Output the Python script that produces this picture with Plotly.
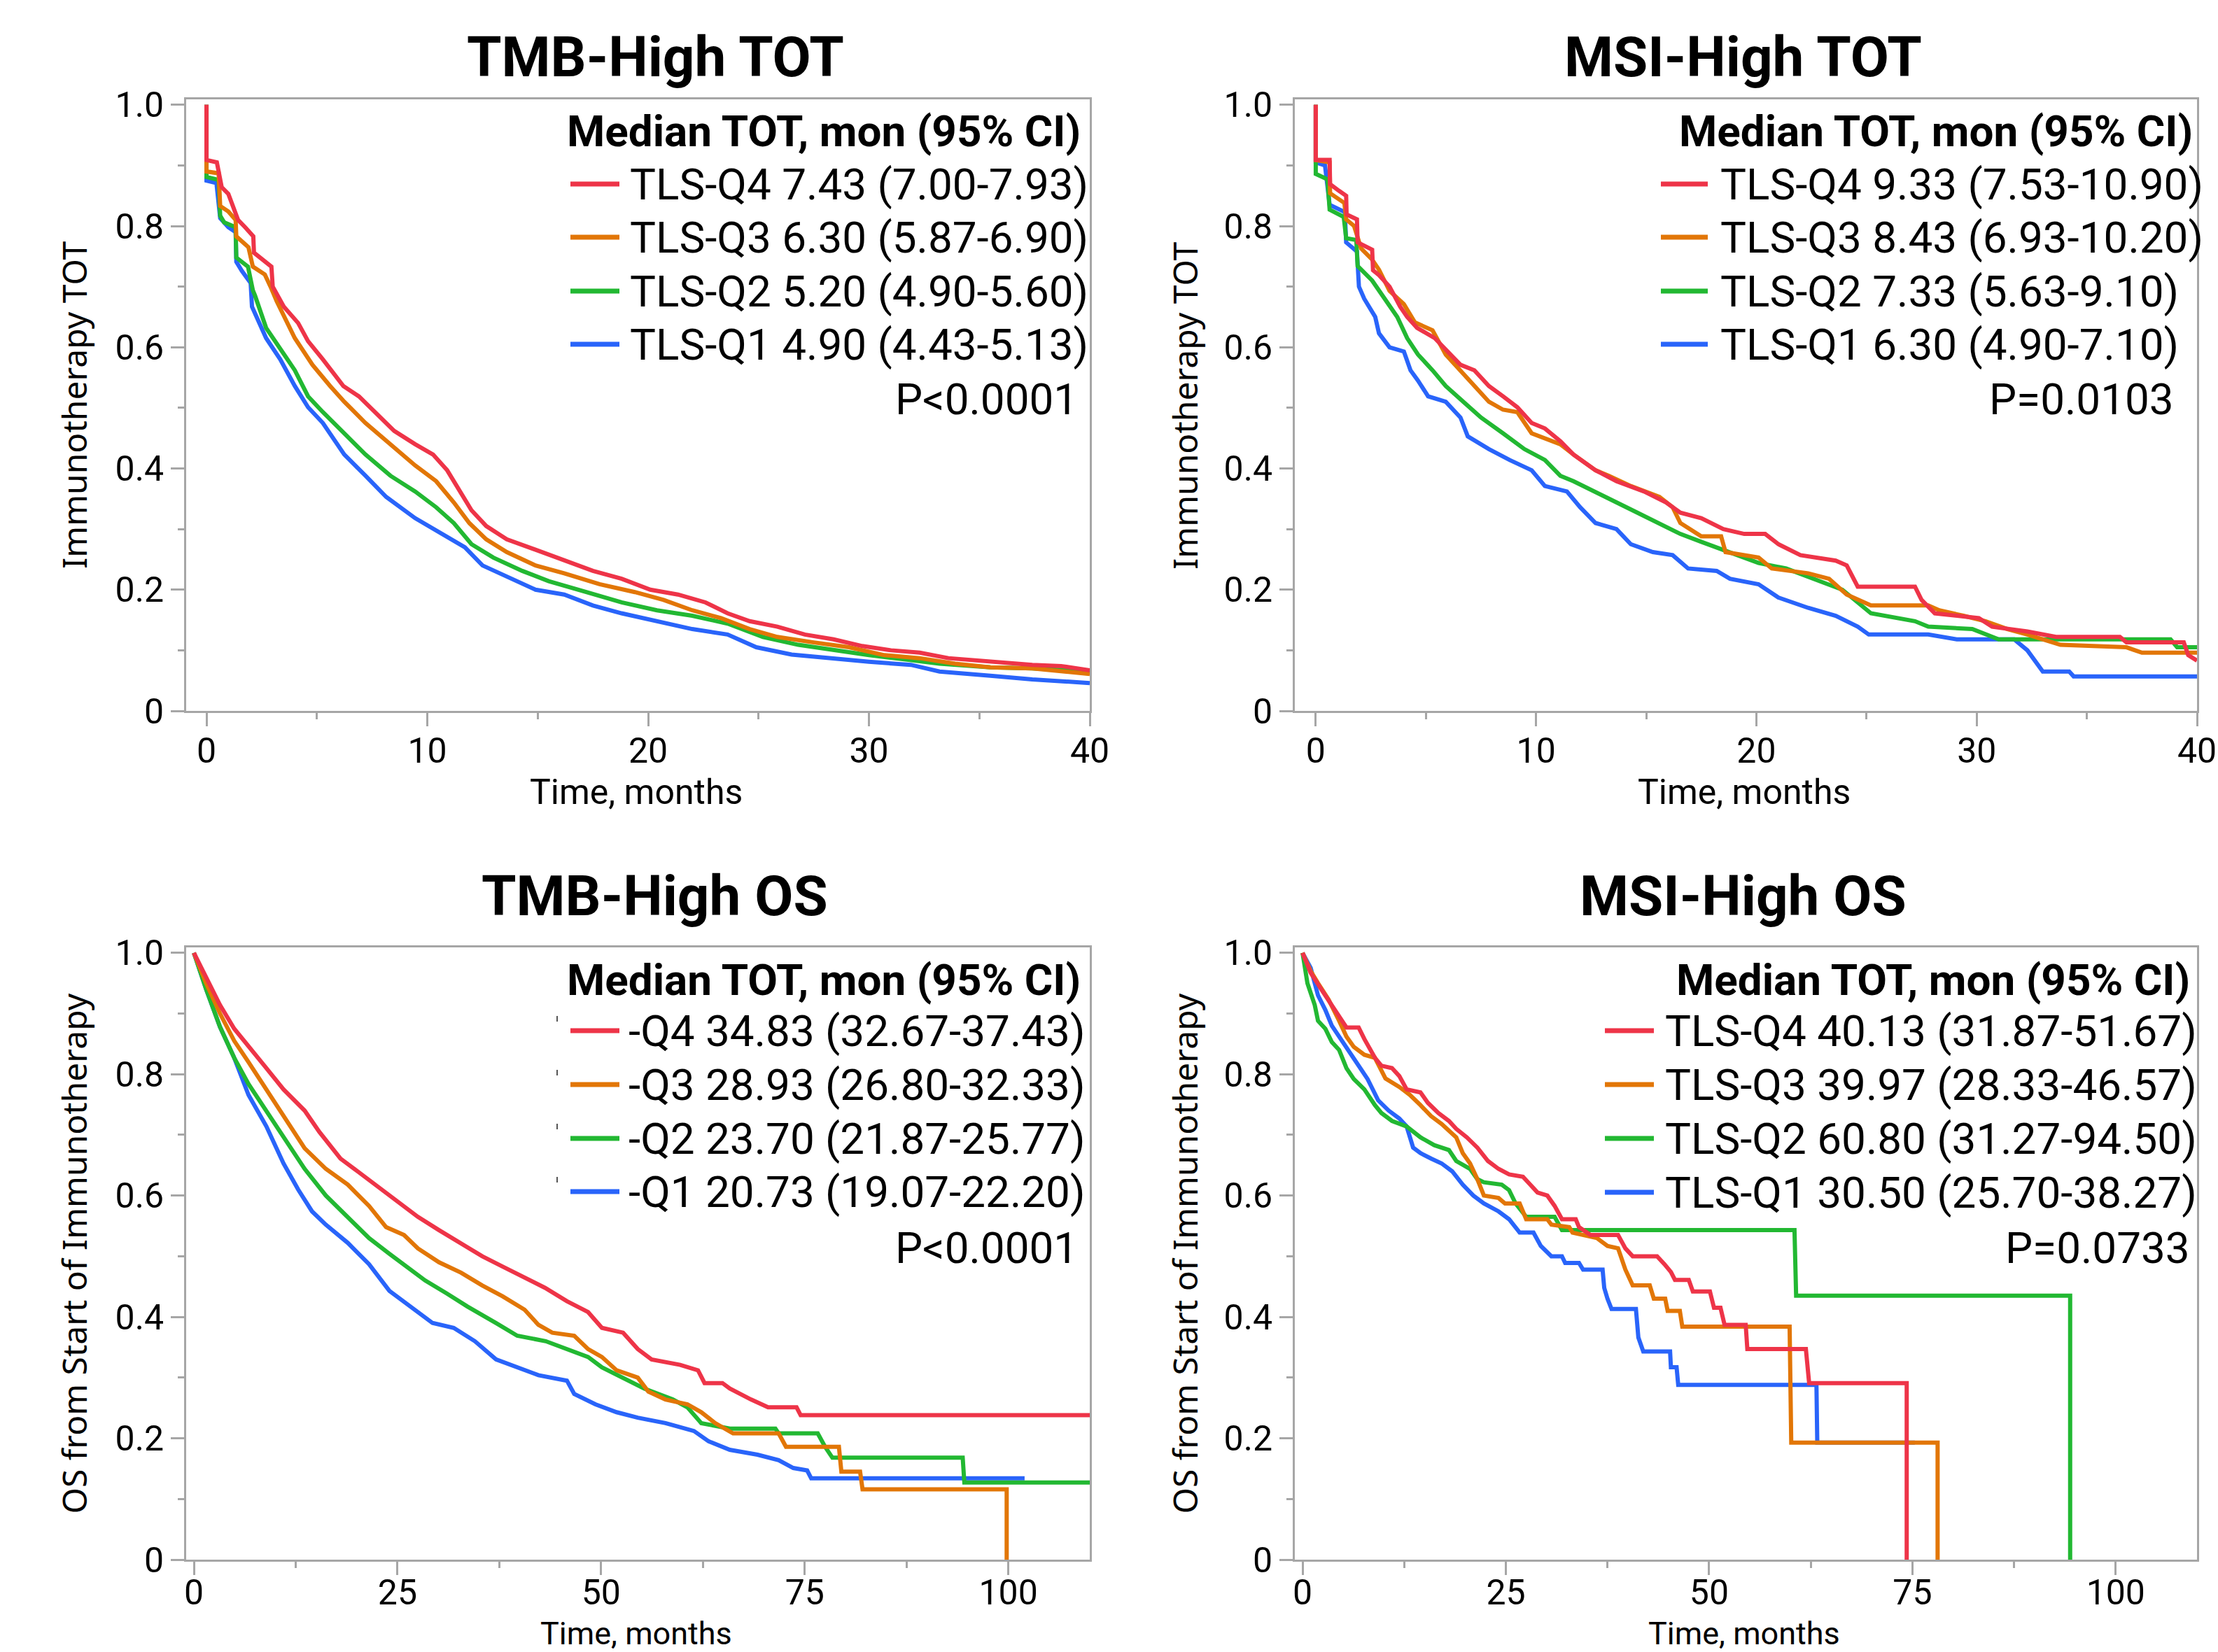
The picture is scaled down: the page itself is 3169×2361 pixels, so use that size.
import plotly.graph_objects as go

# ---------------- data ----------------
# TMB-High TOT
tmb_tot_q4_t = [0, 0, 0.47, 0.69, 0.99, 1.43, 1.75, 2.12, 2.15, 2.94, 3.0, 3.5, 4.15, 4.6, 5.27, 6.2, 6.9, 7.85, 8.5, 9.45, 10.26, 10.9, 11.5, 12.0, 12.67, 13.6, 14.9, 16.2, 17.5, 18.8, 20.1, 21.35, 22.6, 23.6, 24.6, 25.85, 27.1, 28.4, 29.7, 31.0, 32.3, 33.6, 35.5, 37.4, 38.7, 40]
tmb_tot_q4_s = [1.0, 0.909, 0.905, 0.864, 0.853, 0.81, 0.798, 0.783, 0.756, 0.733, 0.70, 0.667, 0.64, 0.61, 0.58, 0.536, 0.519, 0.484, 0.462, 0.44, 0.423, 0.397, 0.362, 0.331, 0.305, 0.283, 0.266, 0.248, 0.231, 0.218, 0.20, 0.192, 0.179, 0.161, 0.148, 0.139, 0.126, 0.118, 0.107, 0.10, 0.096, 0.087, 0.081, 0.076, 0.074, 0.067]
tmb_tot_q3_t = [0, 0, 0.55, 0.62, 0.99, 1.32, 1.35, 1.9, 2.1, 2.64, 2.9, 3.18, 4.0, 4.8, 5.6, 6.24, 7.2, 8.33, 9.45, 10.4, 11.2, 11.9, 12.67, 13.6, 14.9, 16.2, 17.8, 19.4, 20.7, 22, 23.3, 24.6, 25.85, 27.5, 29.1, 30.7, 32.3, 33.9, 35.5, 37.4, 40]
tmb_tot_q3_s = [1.0, 0.89, 0.887, 0.833, 0.824, 0.81, 0.783, 0.765, 0.733, 0.72, 0.70, 0.676, 0.615, 0.571, 0.536, 0.51, 0.475, 0.44, 0.405, 0.379, 0.344, 0.31, 0.283, 0.262, 0.24, 0.227, 0.209, 0.196, 0.183, 0.166, 0.153, 0.135, 0.122, 0.113, 0.105, 0.092, 0.087, 0.078, 0.072, 0.07, 0.061]
tmb_tot_q2_t = [0, 0, 0.55, 0.62, 0.8, 1.32, 1.35, 1.88, 2.1, 2.2, 2.7, 3.34, 4.0, 4.6, 5.27, 6.24, 7.2, 8.33, 9.45, 10.4, 11.2, 12, 12.99, 14.3, 15.5, 17.2, 18.8, 20.4, 22, 23.6, 25.2, 26.8, 28.4, 30.0, 31.6, 33.2, 35.5, 37.4, 40]
tmb_tot_q2_s = [1.0, 0.881, 0.876, 0.817, 0.806, 0.798, 0.748, 0.733, 0.694, 0.685, 0.632, 0.597, 0.562, 0.519, 0.493, 0.458, 0.423, 0.388, 0.362, 0.336, 0.31, 0.275, 0.253, 0.231, 0.214, 0.196, 0.179, 0.166, 0.157, 0.144, 0.122, 0.109, 0.10, 0.092, 0.085, 0.078, 0.072, 0.07, 0.065]
tmb_tot_q1_t = [0, 0, 0.45, 0.62, 0.99, 1.32, 1.35, 1.6, 2.0, 2.06, 2.7, 3.34, 4.0, 4.6, 5.27, 6.24, 7.2, 8.14, 9.45, 10.7, 11.7, 12.5, 13.6, 14.9, 16.2, 17.5, 18.8, 20.4, 22, 23.6, 24.9, 26.5, 28.1, 30, 31.9, 33.2, 35.5, 37.4, 40]
tmb_tot_q1_s = [1.0, 0.875, 0.871, 0.813, 0.798, 0.79, 0.741, 0.726, 0.706, 0.667, 0.615, 0.58, 0.536, 0.501, 0.475, 0.423, 0.388, 0.353, 0.318, 0.292, 0.27, 0.24, 0.222, 0.20, 0.192, 0.174, 0.161, 0.148, 0.135, 0.126, 0.105, 0.093, 0.087, 0.081, 0.076, 0.065, 0.058, 0.052, 0.046]

# MSI-High TOT
msi_tot_q4_t = [0, 0, 0.63, 0.65, 1.06, 1.38, 1.4, 1.87, 1.9, 2.56, 2.6, 2.87, 3.35, 3.83, 4.15, 4.6, 5.4, 5.9, 6.57, 7.2, 7.86, 8.5, 9.15, 9.8, 10.4, 11.1, 11.7, 12.7, 13.65, 14.9, 15.9, 16.55, 17.5, 18.5, 19.45, 20.4, 21.0, 22.0, 23.6, 24.1, 24.6, 27.2, 27.5, 28.1, 30.1, 30.7, 32.3, 33.6, 36.5, 36.8, 39.4, 39.6, 40]
msi_tot_q4_s = [1.0, 0.909, 0.909, 0.869, 0.858, 0.85, 0.819, 0.811, 0.773, 0.761, 0.727, 0.719, 0.70, 0.667, 0.65, 0.632, 0.615, 0.597, 0.571, 0.562, 0.536, 0.519, 0.501, 0.475, 0.466, 0.445, 0.423, 0.397, 0.379, 0.362, 0.344, 0.327, 0.318, 0.30, 0.292, 0.292, 0.275, 0.257, 0.248, 0.24, 0.205, 0.205, 0.183, 0.161, 0.153, 0.139, 0.131, 0.122, 0.122, 0.113, 0.113, 0.092, 0.083]
msi_tot_q3_t = [0, 0, 0.63, 0.65, 1.3, 1.38, 1.74, 2.06, 2.55, 2.87, 3.35, 4.0, 4.5, 5.3, 5.9, 6.57, 7.2, 7.86, 8.5, 9.15, 9.8, 10.4, 11.1, 11.7, 12.7, 13.3, 14.3, 15.6, 16.2, 16.55, 17.5, 18.4, 18.6, 20.1, 20.7, 22.35, 23.3, 24.1, 25.2, 27.8, 28.3, 29.4, 30.4, 31.4, 32.3, 33.8, 36.8, 37.5, 40]
msi_tot_q3_s = [1.0, 0.909, 0.905, 0.854, 0.838, 0.811, 0.80, 0.763, 0.745, 0.728, 0.693, 0.671, 0.641, 0.628, 0.588, 0.562, 0.536, 0.51, 0.497, 0.493, 0.458, 0.449, 0.44, 0.423, 0.397, 0.388, 0.371, 0.353, 0.336, 0.31, 0.288, 0.288, 0.262, 0.253, 0.235, 0.227, 0.218, 0.192, 0.174, 0.174, 0.166, 0.157, 0.148, 0.135, 0.126, 0.109, 0.105, 0.096, 0.096]
msi_tot_q2_t = [0, 0, 0.53, 0.63, 1.27, 1.38, 1.84, 1.9, 2.56, 3.2, 3.7, 4.15, 4.64, 5.3, 5.9, 6.7, 7.5, 8.5, 9.47, 10.4, 11.1, 11.7, 12.7, 13.65, 14.6, 15.6, 16.55, 17.5, 18.8, 20.1, 21.35, 22.6, 23.9, 25.2, 27.2, 27.8, 29.8, 31.0, 38.8, 39.1, 40]
msi_tot_q2_s = [1.0, 0.886, 0.877, 0.827, 0.815, 0.78, 0.777, 0.734, 0.71, 0.676, 0.65, 0.615, 0.588, 0.562, 0.536, 0.51, 0.484, 0.458, 0.432, 0.414, 0.388, 0.379, 0.362, 0.344, 0.327, 0.31, 0.292, 0.279, 0.262, 0.244, 0.235, 0.218, 0.20, 0.161, 0.148, 0.139, 0.135, 0.118, 0.118, 0.105, 0.105]
msi_tot_q1_t = [0, 0, 0.42, 0.63, 1.32, 1.38, 1.87, 1.96, 2.2, 2.7, 2.87, 3.35, 4.0, 4.3, 4.64, 5.1, 5.9, 6.57, 6.9, 7.86, 8.8, 9.8, 10.4, 11.4, 12.0, 12.7, 13.65, 14.3, 15.3, 16.2, 16.9, 18.2, 18.8, 20.1, 21.0, 22.35, 23.6, 24.6, 25.1, 27.8, 29.1, 31.7, 32.3, 33.0, 34.2, 34.4, 40]
msi_tot_q1_s = [1.0, 0.905, 0.90, 0.835, 0.823, 0.773, 0.758, 0.70, 0.68, 0.65, 0.623, 0.60, 0.593, 0.562, 0.545, 0.519, 0.51, 0.484, 0.453, 0.432, 0.414, 0.397, 0.371, 0.362, 0.336, 0.31, 0.30, 0.275, 0.262, 0.257, 0.235, 0.231, 0.218, 0.209, 0.187, 0.17, 0.157, 0.139, 0.126, 0.126, 0.118, 0.118, 0.10, 0.065, 0.065, 0.057, 0.057]

# TMB-High OS
tmb_os_q4_t = [0, 1.5, 3.2, 4.95, 6.7, 8.9, 11.0, 13.6, 15.4, 18.0, 19.7, 22.3, 24.9, 27.5, 30.1, 32.8, 35.4, 37.9, 40.6, 43.1, 45.8, 48.4, 50.1, 52.7, 54.5, 56.2, 59.7, 61.9, 62.7, 64.9, 65.8, 67, 68.4, 70.5, 74, 74.5, 110]
tmb_os_q4_s = [1, 0.958, 0.914, 0.875, 0.845, 0.81, 0.775, 0.74, 0.705, 0.661, 0.644, 0.618, 0.592, 0.565, 0.543, 0.522, 0.50, 0.483, 0.465, 0.448, 0.426, 0.408, 0.382, 0.374, 0.347, 0.33, 0.321, 0.312, 0.291, 0.291, 0.282, 0.273, 0.264, 0.251, 0.251, 0.238, 0.238]
tmb_os_q3_t = [0, 1.5, 3.2, 4.95, 6.7, 8.9, 11, 13.6, 16.2, 18.9, 21.5, 23.6, 25.8, 27.5, 30.1, 32.8, 35.4, 37.9, 40.6, 42.3, 44.0, 46.7, 48.4, 50.1, 51.9, 54.5, 55.8, 57.9, 60.6, 62.3, 64, 66.2, 71.8, 72.7, 79.2, 79.5, 81.8, 82.1, 99.8, 99.8]
tmb_os_q3_s = [1, 0.95, 0.90, 0.855, 0.82, 0.775, 0.73, 0.678, 0.644, 0.618, 0.583, 0.548, 0.535, 0.513, 0.49, 0.473, 0.452, 0.434, 0.412, 0.387, 0.374, 0.369, 0.347, 0.334, 0.312, 0.30, 0.277, 0.264, 0.256, 0.243, 0.225, 0.208, 0.208, 0.186, 0.186, 0.145, 0.145, 0.116, 0.116, 0]
tmb_os_q2_t = [0, 1.5, 3.2, 4.95, 6.7, 8.9, 11, 13.6, 16.2, 18.9, 21.5, 24, 26.7, 28.4, 31, 33.6, 37.1, 39.7, 43.2, 45.8, 48.4, 50.1, 52.7, 55.3, 58.8, 60.6, 62.3, 65.8, 71.4, 71.8, 76.6, 77.5, 78.4, 94.4, 94.6, 110]
tmb_os_q2_s = [1, 0.94, 0.878, 0.827, 0.784, 0.74, 0.696, 0.644, 0.60, 0.565, 0.53, 0.504, 0.478, 0.46, 0.439, 0.417, 0.39, 0.369, 0.36, 0.347, 0.334, 0.317, 0.30, 0.282, 0.264, 0.251, 0.225, 0.216, 0.216, 0.208, 0.208, 0.186, 0.168, 0.168, 0.127, 0.127]
tmb_os_q1_t = [0, 1.5, 3.2, 4.95, 6.7, 8.9, 11, 12.8, 14.5, 16.2, 18.9, 21.5, 24, 26.7, 29.3, 31.9, 34.5, 37.1, 39.7, 42.3, 45.8, 46.7, 49.3, 51.9, 54.5, 57.9, 61.4, 63.2, 65.8, 69.2, 71.8, 73.6, 75.3, 75.8, 102]
tmb_os_q1_s = [1, 0.94, 0.878, 0.827, 0.766, 0.714, 0.653, 0.61, 0.574, 0.552, 0.522, 0.487, 0.443, 0.417, 0.39, 0.382, 0.36, 0.33, 0.317, 0.304, 0.295, 0.273, 0.256, 0.243, 0.234, 0.225, 0.212, 0.195, 0.181, 0.173, 0.164, 0.151, 0.147, 0.134, 0.134]

# MSI-High OS
msi_os_q4_t = [0, 1, 2.3, 3.6, 4.5, 5.4, 6.9, 7.6, 8.9, 9.7, 11, 11.9, 12.8, 14.5, 15.4, 16.7, 18, 18.9, 20.2, 21.5, 22.8, 24.1, 25.4, 27.1, 28, 28.9, 30.1, 31, 31.9, 33.6, 34, 35.4, 38.8, 39.7, 40.6, 43.6, 44.5, 45.3, 45.8, 47.5, 48, 50.1, 50.6, 51.4, 51.9, 54.5, 54.7, 61.9, 62.3, 74.3, 74.3]
msi_os_q4_s = [1, 0.967, 0.94, 0.914, 0.897, 0.877, 0.877, 0.858, 0.827, 0.814, 0.81, 0.797, 0.775, 0.77, 0.753, 0.736, 0.723, 0.71, 0.696, 0.679, 0.657, 0.644, 0.635, 0.631, 0.618, 0.605, 0.60, 0.583, 0.561, 0.561, 0.548, 0.535, 0.535, 0.513, 0.50, 0.50, 0.487, 0.474, 0.461, 0.461, 0.442, 0.442, 0.415, 0.415, 0.387, 0.387, 0.347, 0.347, 0.291, 0.291, 0]
msi_os_q3_t = [0, 1, 1.9, 3.2, 4.5, 5.4, 6.3, 7.6, 8.9, 10.2, 11.9, 13.2, 14.5, 15.8, 17.1, 18.9, 19.7, 20.6, 21.5, 22.3, 24.1, 24.9, 26.7, 27.5, 30.1, 30.6, 32.8, 33.2, 36.2, 37.5, 38.8, 39.7, 40.6, 42.7, 43.2, 44.6, 44.9, 46.4, 46.7, 59.9, 60.1, 78.1, 78.1]
msi_os_q3_s = [1, 0.97, 0.95, 0.923, 0.888, 0.862, 0.845, 0.832, 0.827, 0.793, 0.779, 0.766, 0.749, 0.731, 0.718, 0.696, 0.67, 0.653, 0.627, 0.60, 0.596, 0.587, 0.587, 0.561, 0.561, 0.552, 0.548, 0.539, 0.53, 0.517, 0.513, 0.478, 0.452, 0.452, 0.43, 0.43, 0.41, 0.41, 0.384, 0.384, 0.193, 0.193, 0]
msi_os_q2_t = [0, 0.6, 1.5, 1.9, 2.8, 3.6, 4.5, 5.4, 6.3, 7.6, 8.9, 9.7, 11, 12.8, 14.5, 16.2, 18, 18.9, 20.6, 21.5, 22.3, 24.5, 25.4, 26.2, 27.5, 31, 31.9, 60.5, 60.7, 94.4, 94.4]
msi_os_q2_s = [1, 0.95, 0.914, 0.888, 0.875, 0.853, 0.84, 0.81, 0.792, 0.775, 0.749, 0.736, 0.723, 0.714, 0.696, 0.683, 0.675, 0.657, 0.644, 0.627, 0.622, 0.618, 0.609, 0.587, 0.565, 0.565, 0.543, 0.543, 0.435, 0.435, 0]
msi_os_q1_t = [0, 1, 1.9, 2.8, 3.6, 4.95, 5.8, 6.7, 8, 9.3, 10.6, 11.9, 12.8, 13.6, 14.5, 15.8, 17.1, 18.4, 19.7, 21, 22.3, 24.1, 25.4, 26.7, 28.4, 29.3, 30.6, 31.9, 32.3, 34, 34.5, 36.9, 37.1, 37.5, 38, 41, 41.3, 41.9, 45.2, 45.3, 46, 46.2, 63.2, 63.3, 75.3]
msi_os_q1_s = [1, 0.975, 0.93, 0.906, 0.88, 0.853, 0.836, 0.818, 0.792, 0.757, 0.74, 0.727, 0.714, 0.679, 0.67, 0.661, 0.653, 0.64, 0.618, 0.60, 0.587, 0.574, 0.561, 0.539, 0.539, 0.517, 0.50, 0.50, 0.489, 0.489, 0.478, 0.478, 0.448, 0.43, 0.413, 0.413, 0.366, 0.343, 0.343, 0.317, 0.317, 0.288, 0.288, 0.193, 0.193]

# text
panel_titles = ["TMB-High TOT", "MSI-High TOT", "TMB-High OS", "MSI-High OS"]
y_titles = ["Immunotherapy TOT", "Immunotherapy TOT", "OS from Start of Immunotherapy", "OS from Start of Immunotherapy"]
x_title = "Time, months"
legend_header = "Median TOT, mon (95% CI)"
tmb_tot_labels = ["TLS-Q4 7.43 (7.00-7.93)", "TLS-Q3 6.30 (5.87-6.90)", "TLS-Q2 5.20 (4.90-5.60)", "TLS-Q1 4.90 (4.43-5.13)"]
msi_tot_labels = ["TLS-Q4 9.33 (7.53-10.90)", "TLS-Q3 8.43 (6.93-10.20)", "TLS-Q2 7.33 (5.63-9.10)", "TLS-Q1 6.30 (4.90-7.10)"]
tmb_os_labels = ["-Q4 34.83 (32.67-37.43)", "-Q3 28.93 (26.80-32.33)", "-Q2 23.70 (21.87-25.77)", "-Q1 20.73 (19.07-22.20)"]
msi_os_labels = ["TLS-Q4 40.13 (31.87-51.67)", "TLS-Q3 39.97 (28.33-46.57)", "TLS-Q2 60.80 (31.27-94.50)", "TLS-Q1 30.50 (25.70-38.27)"]
p_values = ["P<0.0001", "P=0.0103", "P<0.0001", "P=0.0733"]
y_tickvals = [0, 0.2, 0.4, 0.6, 0.8, 1.0]
y_ticktext = ["0", "0.2", "0.4", "0.6", "0.8", "1.0"]

# ---------------- style ----------------
W, H = 3169, 2361
COLORS = {"Q4": "#EE3448", "Q3": "#E27606", "Q2": "#22B832", "Q1": "#2964FA"}
GRAY = "#A6A6A6"
FONT = "Roboto"
YFONT = "Noto Sans"
TITLE_SIZE, HDR_SIZE, ENTRY_SIZE = 80, 62, 62


def px(x):
    return x / W


def py(y):
    return 1 - y / H


panels = [
    dict(data=[(tmb_tot_q1_t, tmb_tot_q1_s), (tmb_tot_q2_t, tmb_tot_q2_s), (tmb_tot_q3_t, tmb_tot_q3_s), (tmb_tot_q4_t, tmb_tot_q4_s)],
         labels=tmb_tot_labels, xd=(266, 1557), yd=(142, 1016), xr=[-0.92, 40], dt=10, mdt=5, tx_c=937,
         sw=(815, 885), tx=898, hdr=1546, pr=1542, ys=(188, 263, 339, 416, 492, 570), ty=82, yt=105,
         xty=1132, xts=50, tls=-8, marks=False),
    dict(data=[(msi_tot_q1_t, msi_tot_q1_s), (msi_tot_q2_t, msi_tot_q2_s), (msi_tot_q3_t, msi_tot_q3_s), (msi_tot_q4_t, msi_tot_q4_s)],
         labels=msi_tot_labels, xd=(1850, 3139), yd=(142, 1016), xr=[-0.95, 40], dt=10, mdt=5, tx_c=2490,
         sw=(2373, 2440), tx=2456, hdr=3135, pr=3108, ys=(188, 263, 339, 416, 492, 570), ty=82, yt=1692,
         xty=1132, xts=50, tls=-8, marks=False),
    dict(data=[(tmb_os_q1_t, tmb_os_q1_s), (tmb_os_q2_t, tmb_os_q2_s), (tmb_os_q3_t, tmb_os_q3_s), (tmb_os_q4_t, tmb_os_q4_s)],
         labels=tmb_os_labels, xd=(266, 1557), yd=(1354, 2229), xr=[-0.95, 110], dt=25, mdt=12.5, tx_c=935,
         sw=(815, 885), tx=896, hdr=1546, pr=1542, ys=(1400, 1473, 1550, 1627, 1703, 1783), ty=1281, yt=105,
         xty=2334, xts=45, tls=-18, marks=True),
    dict(data=[(msi_os_q1_t, msi_os_q1_s), (msi_os_q2_t, msi_os_q2_s), (msi_os_q3_t, msi_os_q3_s), (msi_os_q4_t, msi_os_q4_s)],
         labels=msi_os_labels, xd=(1850, 3139), yd=(1354, 2229), xr=[-0.95, 110], dt=25, mdt=12.5, tx_c=2490,
         sw=(2293, 2363), tx=2377, hdr=3131, pr=3131, ys=(1400, 1473, 1550, 1627, 1704, 1783), ty=1281, yt=1692,
         xty=2334, xts=45, tls=-18, marks=False),
]

fig = go.Figure()
annotations = []
shapes = []
layout_axes = {}
groups = ["Q1", "Q2", "Q3", "Q4"]

for i, p in enumerate(panels):
    n = "" if i == 0 else str(i + 1)
    for g, (t, s) in zip(groups, p["data"]):
        fig.add_trace(go.Scatter(x=t, y=s, mode="lines", line=dict(color=COLORS[g], width=6),
                                 xaxis="x" + n, yaxis="y" + n, showlegend=False, hoverinfo="skip"))
    layout_axes["xaxis" + n] = dict(
        domain=[px(p["xd"][0]), px(p["xd"][1])], range=p["xr"], anchor="y" + n, automargin=False,
        tickmode="linear", tick0=0, dtick=p["dt"], ticks="outside", ticklen=19, tickwidth=3, tickcolor=GRAY,
        showline=True, linecolor=GRAY, linewidth=3, mirror=True, showgrid=False, zeroline=False,
        tickfont=dict(family=FONT, size=50, color="black"), ticklabelstandoff=p["tls"],
        minor=dict(ticks="outside", ticklen=9, tickwidth=3, tickcolor=GRAY, tick0=0, dtick=p["mdt"], showgrid=False),
    )
    layout_axes["yaxis" + n] = dict(
        domain=[py(p["yd"][1]), py(p["yd"][0])], range=[0, 1.009], anchor="x" + n, automargin=False,
        tickmode="array", tickvals=y_tickvals, ticktext=y_ticktext, ticks="outside", ticklen=19, tickwidth=3,
        tickcolor=GRAY, showline=True, linecolor=GRAY, linewidth=3, mirror=True, showgrid=False, zeroline=False,
        tickfont=dict(family=FONT, size=50, color="black"),
        minor=dict(ticks="outside", ticklen=9, tickwidth=3, tickcolor=GRAY, tickmode="array",
                   tickvals=[0.1, 0.3, 0.5, 0.7, 0.9], showgrid=False),
    )
    xc = (p["xd"][0] + p["xd"][1]) / 2
    yc = (p["yd"][0] + p["yd"][1]) / 2
    # panel title
    annotations.append(dict(x=px(p["tx_c"]), y=py(p["ty"]), xref="paper", yref="paper",
                            showarrow=False, text="<b>" + panel_titles[i] + "</b>", xanchor="center", yanchor="middle",
                            font=dict(family=FONT, size=TITLE_SIZE, color="black")))
    # axis titles
    annotations.append(dict(x=px(p["yt"]), y=py(yc), xref="paper", yref="paper", showarrow=False,
                            text=y_titles[i], textangle=-90, xanchor="center", yanchor="middle",
                            font=dict(family=YFONT, size=48, color="black")))
    annotations.append(dict(x=px(xc - 3), y=py(p["xty"]), xref="paper", yref="paper", showarrow=False,
                            text=x_title, xanchor="center", yanchor="middle",
                            font=dict(family=FONT, size=p["xts"], color="black")))
    # legend block
    ys = p["ys"]
    annotations.append(dict(x=px(p["hdr"]), y=py(ys[0]), xref="paper", yref="paper", showarrow=False,
                            text="<b>" + legend_header + "</b>", xanchor="right", yanchor="middle",
                            font=dict(family=FONT, size=HDR_SIZE, color="black")))
    for k, (g, lab) in enumerate(zip(["Q4", "Q3", "Q2", "Q1"], p["labels"])):
        yy = ys[k + 1]
        shapes.append(dict(type="line", xref="paper", yref="paper", x0=px(p["sw"][0]), x1=px(p["sw"][1]),
                           y0=py(yy), y1=py(yy), line=dict(color=COLORS[g], width=7)))
        if p["marks"]:
            shapes.append(dict(type="line", xref="paper", yref="paper", x0=px(796), x1=px(796),
                               y0=py(yy - 21), y1=py(yy - 13), line=dict(color="#555555", width=2)))
        annotations.append(dict(x=px(p["tx"]), y=py(yy), xref="paper", yref="paper",
                                showarrow=False, text=lab, xanchor="left", yanchor="middle",
                                font=dict(family=FONT, size=ENTRY_SIZE, color="black")))
    annotations.append(dict(x=px(p["pr"]), y=py(ys[5]), xref="paper", yref="paper",
                            showarrow=False, text=p_values[i].replace("<", "&lt;"), xanchor="right",
                            yanchor="middle", font=dict(family=FONT, size=ENTRY_SIZE, color="black")))

fig.update_layout(
    width=W, height=H, margin=dict(l=0, r=0, t=0, b=0, pad=0, autoexpand=False),
    paper_bgcolor="white", plot_bgcolor="white",
    annotations=annotations, shapes=shapes, showlegend=False,
    **layout_axes,
)
fig.write_html("out.html", config={"displayModeBar": False},
               post_script="document.body.style.margin='0px';document.documentElement.style.overflow='hidden';"
                           "document.body.style.overflow='hidden';")
